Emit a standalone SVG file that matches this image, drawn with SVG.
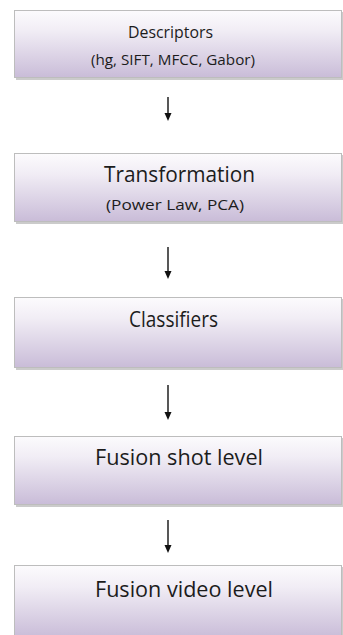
<svg xmlns="http://www.w3.org/2000/svg" width="343" height="635" viewBox="0 0 343 635">
<style>
.box{fill:url(#g);stroke:#bdbdbd;stroke-width:1}
.sh{fill:#a9a9a9;opacity:0.6}
.t{font-family:"Open Sans","Noto Sans",sans-serif;fill:#1c1c1c}
.c{stroke:#111;stroke-width:1.4;fill:none}
.h{fill:#111}
</style>
<defs>
<linearGradient id="g" x1="0" y1="0" x2="0" y2="1">
<stop offset="0" stop-color="#fcfbfd"/>
<stop offset="0.3" stop-color="#f1edf5"/>
<stop offset="1" stop-color="#c9bcd8"/>
</linearGradient>
</defs>
<rect width="343" height="635" fill="#fff"/>
<g id="n1">
<rect class="sh" x="16" y="12" width="327" height="68"/>
<rect class="box" x="14.5" y="10.5" width="327" height="67"/>
<text class="t" x="128" y="38" font-size="16" textLength="85" lengthAdjust="spacingAndGlyphs">Descriptors</text>
<text class="t" x="91" y="65" font-size="14" textLength="164" lengthAdjust="spacingAndGlyphs">(hg, SIFT, MFCC, Gabor)</text>
</g>
<g id="n2">
<rect class="sh" x="16" y="155" width="327" height="69"/>
<rect class="box" x="14.5" y="153.5" width="327" height="68"/>
<text class="t" x="104" y="182" font-size="21" textLength="151" lengthAdjust="spacingAndGlyphs">Transformation</text>
<text class="t" x="106" y="210" font-size="15" textLength="138" lengthAdjust="spacingAndGlyphs">(Power Law, PCA)</text>
</g>
<g id="n3">
<rect class="sh" x="16" y="299" width="327" height="71"/>
<rect class="box" x="14.5" y="297.5" width="327" height="70"/>
<text class="t" x="129" y="327" font-size="21" textLength="89" lengthAdjust="spacingAndGlyphs">Classifiers</text>
</g>
<g id="n4">
<rect class="sh" x="16" y="438" width="327" height="69"/>
<rect class="box" x="14.5" y="436.5" width="327" height="68"/>
<text class="t" x="95" y="465" font-size="21" textLength="168" lengthAdjust="spacingAndGlyphs">Fusion shot level</text>
</g>
<g id="n5">
<rect class="sh" x="16" y="567" width="327" height="72"/>
<rect class="box" x="14.5" y="565.5" width="327" height="72"/>
<text class="t" x="95" y="597" font-size="21" textLength="178" lengthAdjust="spacingAndGlyphs">Fusion video level</text>
</g>
<g id="connectors">
<line class="c" x1="168" y1="97" x2="168" y2="114"/>
<path class="h" d="M164.5,113 L171.5,113 L168,121 Z"/>
<line class="c" x1="168" y1="247" x2="168" y2="272"/>
<path class="h" d="M164.5,271 L171.5,271 L168,279 Z"/>
<line class="c" x1="168" y1="385" x2="168" y2="413"/>
<path class="h" d="M164.5,412 L171.5,412 L168,420 Z"/>
<line class="c" x1="168" y1="520" x2="168" y2="546"/>
<path class="h" d="M164.5,545 L171.5,545 L168,553 Z"/>
</g>
</svg>
